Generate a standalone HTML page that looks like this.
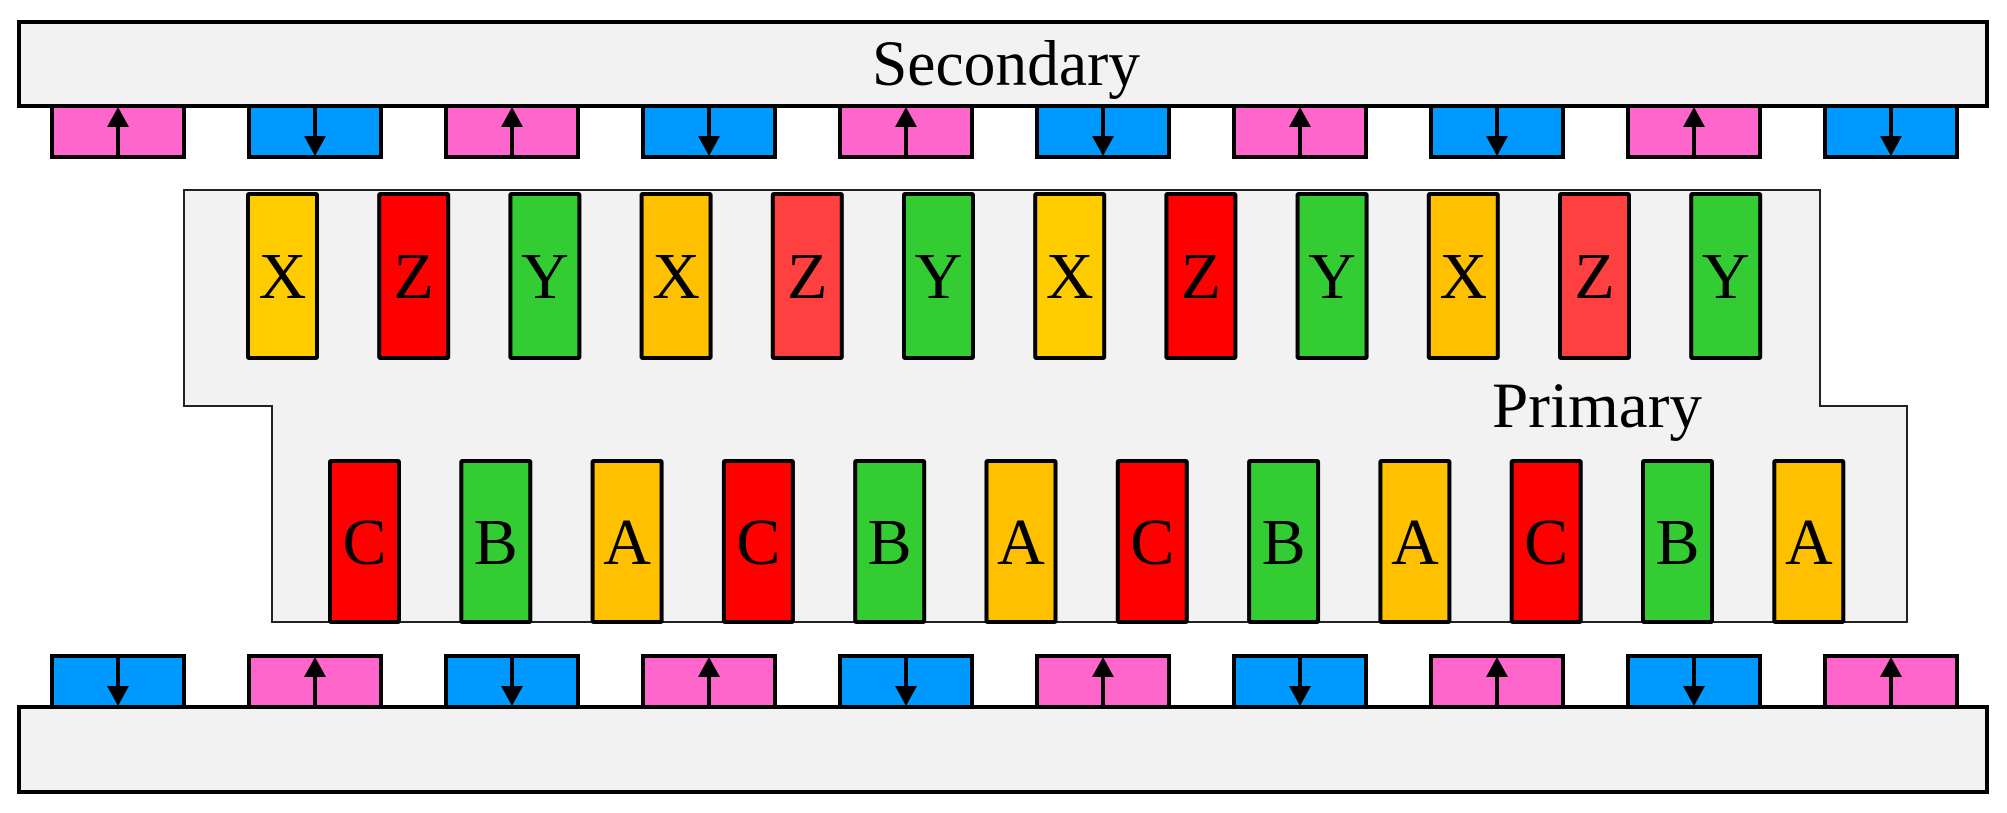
<!DOCTYPE html>
<html><head><meta charset="utf-8"><style>html,body{margin:0;padding:0;background:#fff}svg{display:block}</style></head>
<body>
<svg width="2007" height="813" viewBox="0 0 2007 813" xmlns="http://www.w3.org/2000/svg" font-family="'Liberation Serif', serif">
<rect x="19" y="22" width="1968" height="84" fill="#f2f2f2" stroke="#000" stroke-width="4"/>
<text x="872" y="85" font-size="65" textLength="268" lengthAdjust="spacingAndGlyphs">Secondary</text>
<path d="M184,190 H1820 V406 H1907 V622 H272 V406 H184 Z" fill="#f2f2f2" stroke="#222" stroke-width="2"/>
<text x="1492" y="427" font-size="65" textLength="210" lengthAdjust="spacingAndGlyphs">Primary</text>
<rect x="19" y="707" width="1968" height="85" fill="#f2f2f2" stroke="#000" stroke-width="4"/>
<script>
(function(){
var ns="http://www.w3.org/2000/svg";
function el(t,a,p,txt){var e=document.createElementNS(ns,t);for(var k in a)e.setAttribute(k,a[k]);if(txt)e.textContent=txt;p.appendChild(e);return e;}
var svg=document.querySelector('svg');
function mag(x,y,h,up){var g=el('g',{},svg);var c=up?'#ff66cc':'#0099ff';
el('rect',{x:x,y:y,width:132,height:h,fill:c,stroke:'#000','stroke-width':4},g);
var cx=x+66;
if(up){el('line',{x1:cx,y1:y+h+2,x2:cx,y2:y+18,stroke:'#000','stroke-width':4},g);el('polygon',{points:(cx-11)+','+(y+21)+' '+(cx+11)+','+(y+21)+' '+cx+','+(y+1),fill:'#000'},g);}
else{el('line',{x1:cx,y1:y-2,x2:cx,y2:y+h-18,stroke:'#000','stroke-width':4},g);el('polygon',{points:(cx-11)+','+(y+h-21)+' '+(cx+11)+','+(y+h-21)+' '+cx+','+(y+h-1),fill:'#000'},g);}
}
for(var i=0;i<10;i++){var x=52+197*i;mag(x,106,51,i%2==0);mag(x,656,51,i%2==1);}
function coil(x,y,h,col,L,by){el('rect',{x:x,y:y,width:69,height:h,fill:col,stroke:'#000','stroke-width':4,rx:1},svg);
el('text',{x:x+34.5,y:by,'font-size':66,'text-anchor':'middle','font-family':"'Liberation Serif', serif"},svg,L);}
var tops=[['X','#ffcc00'],['Z','#ff0000'],['Y','#33cc33'],['X','#ffc000'],['Z','#ff4040'],['Y','#33cc33'],['X','#ffcc00'],['Z','#ff0000'],['Y','#33cc33'],['X','#ffc000'],['Z','#ff4040'],['Y','#33cc33']];
for(var i=0;i<12;i++){coil(248+131.2*i,194,164,tops[i][1],tops[i][0],298);}
var bots=[['C','#ff0000'],['B','#33cc33'],['A','#ffc000']];
for(var i=0;i<12;i++){var b=bots[i%3];coil(330+131.3*i,461,161,b[1],b[0],564);}
})();
</script>
</svg>
</body></html>
